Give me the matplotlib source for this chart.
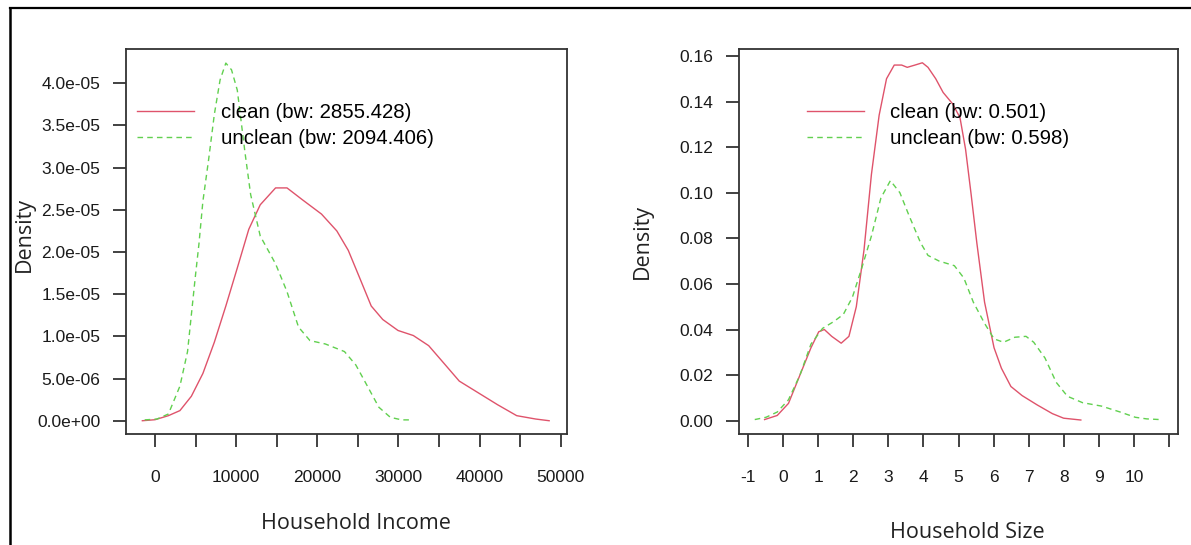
import numpy as np
import matplotlib.pyplot as plt
from matplotlib.lines import Line2D

# household income density (x in currency, y density)
income_clean_x = [-1560, 0, 1650, 3070, 4480, 5900, 7310, 8730, 10140, 11560, 12970,
                  14860, 16270, 18160, 20520, 22410, 23820, 25240, 26650, 28070, 29950,
                  31840, 33730, 35620, 37500, 39860, 42220, 44580, 46930, 48580]
income_clean_y = [0.0, 0.12, 0.6, 1.2, 2.9, 5.6, 9.3, 13.6, 18.1, 22.7, 25.6,
                  27.6, 27.6, 26.2, 24.5, 22.5, 20.2, 16.9, 13.6, 12.0, 10.7,
                  10.1, 8.9, 6.8, 4.7, 3.3, 1.9, 0.6, 0.2, 0.0]
income_unclean_x = [-1270, 240, 1650, 3070, 4010, 4950, 5420, 5900, 6600, 7310, 8020,
                    8730, 9430, 10140, 11090, 11790, 12970, 14860, 16270, 17690, 19100,
                    20990, 23350, 24760, 26180, 27590, 29010, 30420, 31370]
income_unclean_y = [0.1, 0.2, 0.8, 4.1, 8.2, 16.9, 21.0, 26.0, 30.9, 36.3, 40.4,
                    42.4, 41.6, 39.2, 31.8, 26.8, 21.9, 18.6, 15.3, 11.1, 9.5,
                    9.1, 8.2, 6.6, 4.1, 1.6, 0.4, 0.1, 0.1]

# household size density
size_clean_x = [-0.52, -0.16, 0.16, 0.48, 0.80, 1.02, 1.18, 1.39, 1.66, 1.88, 2.09,
                2.31, 2.52, 2.74, 2.95, 3.17, 3.38, 3.54, 3.76, 3.97, 4.13, 4.35,
                4.56, 4.83, 5.04, 5.20, 5.36, 5.52, 5.74, 6.01, 6.22, 6.49, 6.81,
                7.24, 7.67, 7.99, 8.48]
size_clean_y = [0.0005, 0.0023, 0.0076, 0.0198, 0.032, 0.039, 0.040, 0.037, 0.034,
                0.037, 0.050, 0.075, 0.108, 0.134, 0.150, 0.156, 0.156, 0.155, 0.156,
                0.157, 0.155, 0.150, 0.144, 0.139, 0.133, 0.119, 0.099, 0.078, 0.052,
                0.032, 0.023, 0.015, 0.011, 0.0069, 0.0031, 0.0011, 0.0003]
size_unclean_x = [-0.80, -0.48, -0.16, 0.16, 0.48, 0.80, 1.13, 1.45, 1.72, 1.98, 2.25,
                  2.52, 2.79, 3.06, 3.33, 3.59, 3.92, 4.13, 4.45, 4.88, 5.15, 5.42,
                  5.74, 6.01, 6.28, 6.60, 6.92, 7.14, 7.46, 7.78, 8.10, 8.53, 9.07,
                  9.60, 10.03, 10.35, 10.73]
size_unclean_y = [0.0005, 0.0015, 0.0038, 0.0092, 0.0198, 0.0336, 0.0405, 0.0435,
                  0.0466, 0.0542, 0.0672, 0.081, 0.0977, 0.1053, 0.100, 0.090, 0.078,
                  0.0725, 0.070, 0.068, 0.0626, 0.052, 0.0427, 0.0359, 0.0344, 0.0366,
                  0.037, 0.0344, 0.0275, 0.0168, 0.0107, 0.0079, 0.0064, 0.0038,
                  0.0015, 0.0008, 0.0005]

labels_income = ['clean (bw: 2855.428)', 'unclean (bw: 2094.406)']
labels_size = ['clean (bw: 0.501)', 'unclean (bw: 0.598)']

red = '#DF536B'
green = '#61D04F'
tick_font = 'Liberation Sans'
label_font = 'Open Sans'
label_size = 15.5

fig = plt.figure(figsize=(11.91, 5.45), dpi=100)
ax1 = fig.add_axes([0.1058, 0.2031, 0.3700, 0.7064])
ax2 = fig.add_axes([0.6205, 0.2031, 0.3689, 0.7064])


def style(ax):
    for s in ax.spines.values():
        s.set_linewidth(1.3)
        s.set_color('#333333')
    ax.tick_params(direction='out', length=9.5, width=1.3, color='#333333',
                   labelsize=12.5, labelcolor='#1a1a1a')
    ax.tick_params(axis='x', pad=16)
    ax.tick_params(axis='y', pad=9)
    for lab in ax.get_xticklabels() + ax.get_yticklabels():
        lab.set_fontfamily(tick_font)


# left: income
ax1.plot(income_clean_x, np.array(income_clean_y) * 1e-6, color=red, lw=1.0,
         label=labels_income[0])
ax1.plot(income_unclean_x, np.array(income_unclean_y) * 1e-6, color=green, lw=1.0,
         ls=(0, (4, 3)), label=labels_income[1])
ax1.set_xlim(-3574, 50740)
ax1.set_ylim(-1.61e-6, 4.403e-5)
xt = np.arange(0, 50001, 5000)
ax1.set_xticks(xt)
ax1.set_xticklabels([str(v) if v % 10000 == 0 else '' for v in xt])
yt = np.arange(0, 4.01e-5, 5e-6)
ax1.set_yticks(yt)
ax1.set_yticklabels(['%.1e' % v for v in yt])
style(ax1)
ax1.set_xlabel('Household Income', fontfamily=label_font, fontsize=label_size, color='#222222')
ax1.xaxis.set_label_coords(0.522, -0.2304)
ax1.xaxis.label.set_va('center')
ax1.set_ylabel('Density', fontfamily=label_font, fontsize=label_size, color='#222222', va='center')
ax1.yaxis.set_label_coords(-0.2315, 0.52)
ax1.legend(loc='upper left', bbox_to_anchor=(0.025, 0.86), frameon=False,
           prop={'family': tick_font, 'size': 14.7}, handlelength=2.8,
           handletextpad=1.3, borderaxespad=0, borderpad=0, labelspacing=0.35)

# right: size
ax2.plot(size_clean_x, size_clean_y, color=red, lw=1.0, label=labels_size[0])
ax2.plot(size_unclean_x, size_unclean_y, color=green, lw=1.0, ls=(0, (4, 3)),
         label=labels_size[1])
ax2.set_xlim(-1.248, 11.256)
ax2.set_ylim(-0.00597, 0.1629)
xt2 = np.arange(-1, 12)
ax2.set_xticks(xt2)
ax2.set_xticklabels([str(v) if v <= 10 else '' for v in xt2])
yt2 = np.arange(0, 0.161, 0.02)
ax2.set_yticks(yt2)
ax2.set_yticklabels(['%.2f' % v for v in yt2])
style(ax2)
ax2.set_xlabel('Household Size', fontfamily=label_font, fontsize=label_size, color='#222222')
ax2.xaxis.set_label_coords(0.52, -0.256)
ax2.xaxis.label.set_va('center')
ax2.set_ylabel('Density', fontfamily=label_font, fontsize=label_size, color='#222222', va='center')
ax2.yaxis.set_label_coords(-0.2208, 0.502)
ax2.legend(loc='upper left', bbox_to_anchor=(0.154, 0.86), frameon=False,
           prop={'family': tick_font, 'size': 14.7}, handlelength=2.8,
           handletextpad=1.3, borderaxespad=0, borderpad=0, labelspacing=0.35)

# outer frame of the screenshot
fig.add_artist(Line2D([0.0084, 1.0], [0.986, 0.986], color='black', lw=1.6))
fig.add_artist(Line2D([0.0084, 0.0084], [0.0, 0.986], color='black', lw=1.8))

fig.savefig('out.png', dpi=100)
